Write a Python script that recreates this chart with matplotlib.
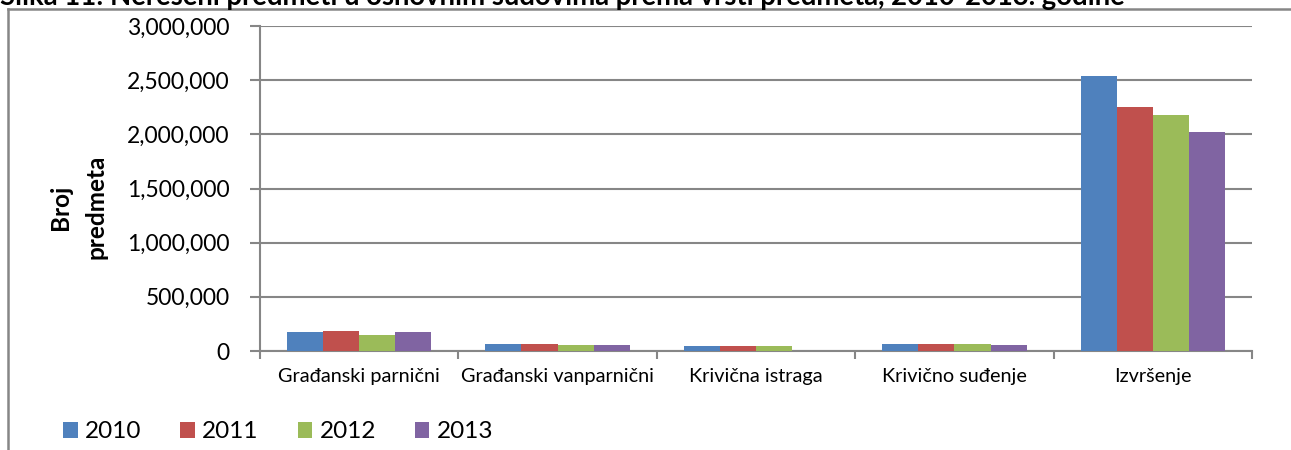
import matplotlib
matplotlib.use("Agg")
import matplotlib.pyplot as plt
import numpy as np
from matplotlib.patches import Patch
from matplotlib.lines import Line2D
from matplotlib.ticker import FuncFormatter, MultipleLocator

plt.rcParams['font.family'] = ['Lato', 'DejaVu Sans']

title = "Slika 11: Nerešeni predmeti u osnovnim sudovima prema vrsti predmeta, 2010-2013. godine"
categories = ["Građanski parnični", "Građanski vanparnični", "Krivična istraga",
              "Krivično suđenje", "Izvršenje"]
years = ["2010", "2011", "2012", "2013"]
v2010 = [172000, 67000, 47000, 65000, 2535000]
v2011 = [185000, 67000, 49000, 68000, 2249000]
v2012 = [148000, 53000, 43000, 64000, 2178000]
v2013 = [172000, 53000, 0, 58000, 2021000]
series = [v2010, v2011, v2012, v2013]
colors = ["#4F81BD", "#C0504D", "#9BBB59", "#8064A2"]
ylabel = "Broj\npredmeta"

W, H = 1291, 450
fig = plt.figure(figsize=(W / 100, H / 100), dpi=100)
ax = fig.add_axes([260 / W, 1 - 351 / H, (1252 - 260) / W, (351 - 26) / H])

x = np.arange(len(categories))
bw = 0.182
for i, (vals, col) in enumerate(zip(series, colors)):
    ax.bar(x + (i - 1.5) * bw, vals, width=bw, color=col, label=years[i], zorder=3)

ax.set_xlim(-0.5, len(categories) - 0.5)
ax.set_ylim(0, 3000000)
ax.yaxis.set_major_locator(MultipleLocator(500000))
ax.yaxis.set_major_formatter(FuncFormatter(lambda v, p: f"{int(v):,}"))
ax.grid(axis='y', color='#868686', linewidth=1.5, zorder=0)
ax.set_axisbelow(True)

for s in ['top', 'right']:
    ax.spines[s].set_visible(False)
for s in ['left', 'bottom']:
    ax.spines[s].set_color('#868686')
    ax.spines[s].set_linewidth(1.5)

ax.set_xticks(x)
ax.set_xticklabels(categories, fontsize=14.3)
ax.tick_params(axis='x', length=0, pad=12)
ax.set_xticks(np.arange(len(categories) + 1) - 0.5, minor=True)
ax.tick_params(axis='x', which='minor', length=6, width=1.5, color='#868686')
ax.tick_params(axis='y', length=7, width=1.5, color='#868686', labelsize=16.5, pad=15)

fig.text(78 / W, 1 - 207 / H, ylabel, rotation=90, ha='center', va='center',
         fontsize=17.5, fontweight='bold', linespacing=1.65, multialignment='center')

# title clipped at top, as in the reference
fig.text(0, 1 - 5 / H, title, ha='left', va='baseline', fontsize=19.8,
         fontweight='bold', color='black')

# outer chart border
fig.add_artist(Line2D([8 / W, 8 / W], [0, 1 - 9 / H], transform=fig.transFigure,
                      color='#868686', linewidth=1.8))
fig.add_artist(Line2D([8 / W, 1], [1 - 9 / H, 1 - 9 / H], transform=fig.transFigure,
                      color='#868686', linewidth=1.8))

handles = [Patch(facecolor=c, edgecolor='none') for c in colors]
fig.legend(handles, years, loc='center left', bbox_to_anchor=(63 / W, 1 - 432 / H),
           ncol=4, frameon=False, fontsize=17.5, handlelength=0.6, handleheight=0.6,
           handletextpad=0.3, columnspacing=1.6, borderaxespad=0, borderpad=0)

fig.savefig("out.png", dpi=100)
